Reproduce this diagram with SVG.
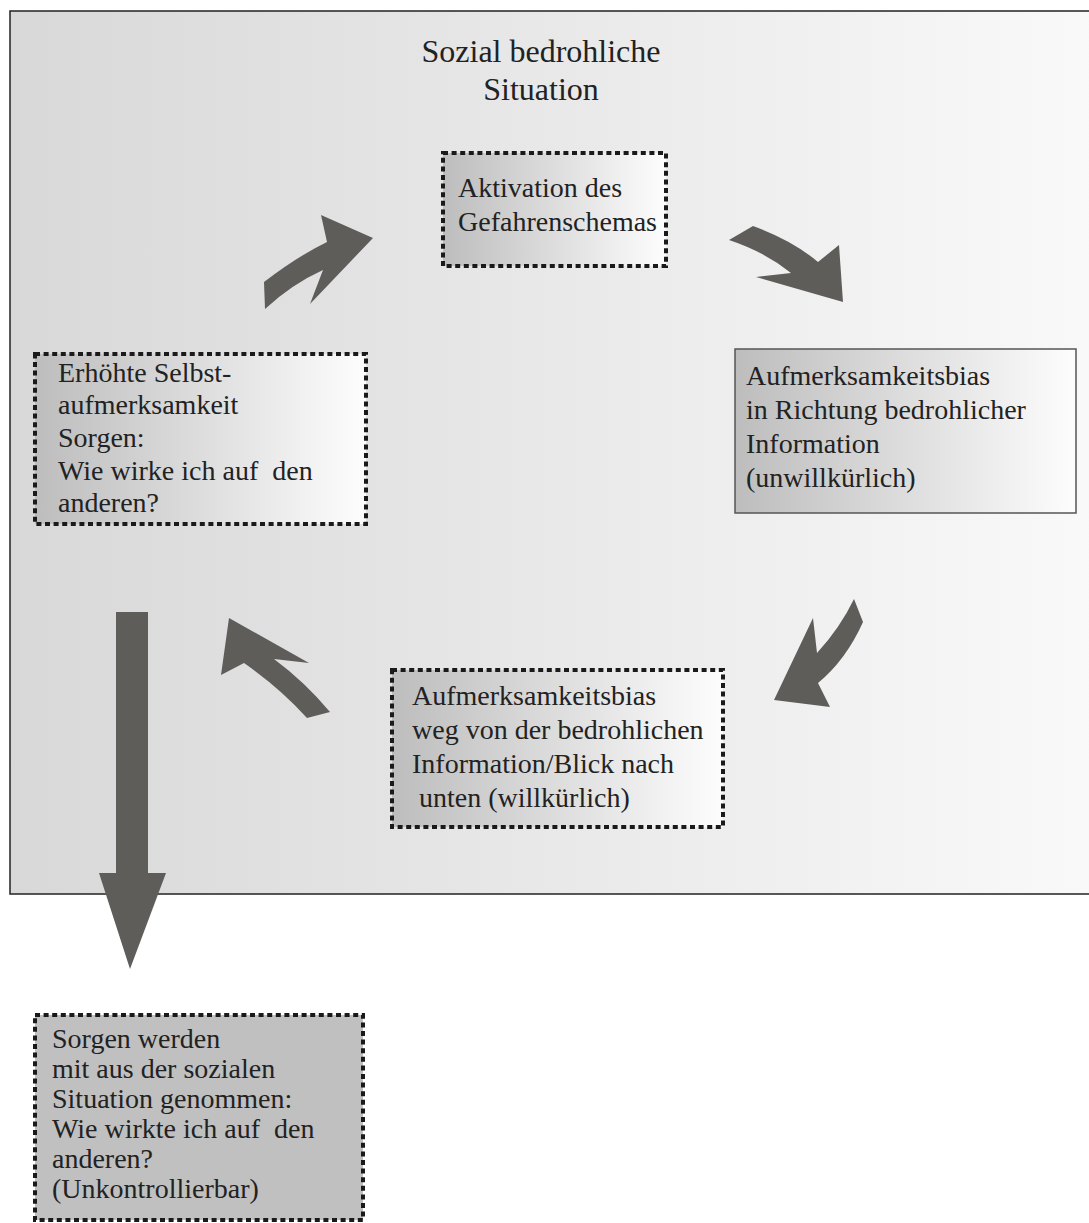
<svg xmlns="http://www.w3.org/2000/svg" width="1089" height="1223" viewBox="0 0 1089 1223">
<defs>
<linearGradient id="bg" x1="0" y1="0" x2="1" y2="0">
<stop offset="0" stop-color="#d8d8d8"/>
<stop offset="1" stop-color="#f9f9f9"/>
</linearGradient>
<linearGradient id="boxg" x1="0" y1="0" x2="1" y2="0">
<stop offset="0" stop-color="#bdbdbd"/>
<stop offset="1" stop-color="#fdfdfd"/>
</linearGradient>
</defs>
<style>
.t{font-family:"Liberation Serif","DejaVu Serif",serif;font-size:28px;fill:#222;white-space:pre}
.title{font-size:32px;text-anchor:middle}
.dot{stroke:#1a1a1a;stroke-width:4;stroke-dasharray:5 3.6}
.arr{fill:#5e5d5a}
</style>
<rect id="frame" x="10" y="11" width="1082" height="883" fill="url(#bg)" stroke="#222" stroke-width="1.5"/>
<g id="title">
<text class="t title" x="541" y="62">Sozial bedrohliche</text>
<text class="t title" x="541" y="100">Situation</text>
</g>
<g id="connectors">
<path class="arr" d="M264,282 Q298,256 327,242 L321,215 L373,238 L310,304 L323,270 Q292,284 265,309 Z"/>
<path class="arr" d="M753,226 Q792,240 818,262 L839,245 L843,302 L756,277 L791,273 Q765,252 729,240 Z"/>
<path class="arr" d="M854,599 L863,622 Q846,660 818,683 L830,707 L774,700 L813,618 L817,653 Q840,628 854,599 Z"/>
<path class="arr" d="M229,618 L309,663 L274,659 Q305,682 330,712 L307,718 Q280,688 244,663 L221,675 Z"/>
<path class="arr" d="M116,612 L148,612 L148,873 L166,873 L130,969 L99,873 L116,873 Z"/>
</g>
<g id="node-aktivation">
<rect class="dot" x="443" y="153" width="223" height="113" fill="url(#boxg)"/>
<text class="t" x="458" y="197">Aktivation des</text>
<text class="t" x="458" y="231">Gefahrenschemas</text>
</g>
<g id="node-bias-zu">
<rect x="735" y="349" width="341" height="164" fill="url(#boxg)" stroke="#555" stroke-width="1.5"/>
<text class="t" x="746" y="385">Aufmerksamkeitsbias</text>
<text class="t" x="746" y="419">in Richtung bedrohlicher</text>
<text class="t" x="746" y="453">Information</text>
<text class="t" x="746" y="487">(unwillkürlich)</text>
</g>
<g id="node-selbst">
<rect class="dot" x="35" y="354" width="331" height="170" fill="url(#boxg)"/>
<text class="t" x="58" y="382">Erhöhte Selbst-</text>
<text class="t" x="58" y="414">aufmerksamkeit</text>
<text class="t" x="58" y="447">Sorgen:</text>
<text class="t" x="58" y="480">Wie wirke ich auf  den</text>
<text class="t" x="58" y="512">anderen?</text>
</g>
<g id="node-bias-weg">
<rect class="dot" x="392" y="670" width="331" height="157" fill="url(#boxg)"/>
<text class="t" x="412" y="705">Aufmerksamkeitsbias</text>
<text class="t" x="412" y="739">weg von der bedrohlichen</text>
<text class="t" x="412" y="773">Information/Blick nach</text>
<text class="t" x="412" y="807"> unten (willkürlich)</text>
</g>
<g id="node-sorgen">
<rect class="dot" x="35" y="1015" width="328" height="205" fill="#c0c0c0"/>
<text class="t" x="52" y="1048">Sorgen werden</text>
<text class="t" x="52" y="1078">mit aus der sozialen</text>
<text class="t" x="52" y="1108">Situation genommen:</text>
<text class="t" x="52" y="1138">Wie wirkte ich auf  den</text>
<text class="t" x="52" y="1168">anderen?</text>
<text class="t" x="52" y="1198">(Unkontrollierbar)</text>
</g>
</svg>
